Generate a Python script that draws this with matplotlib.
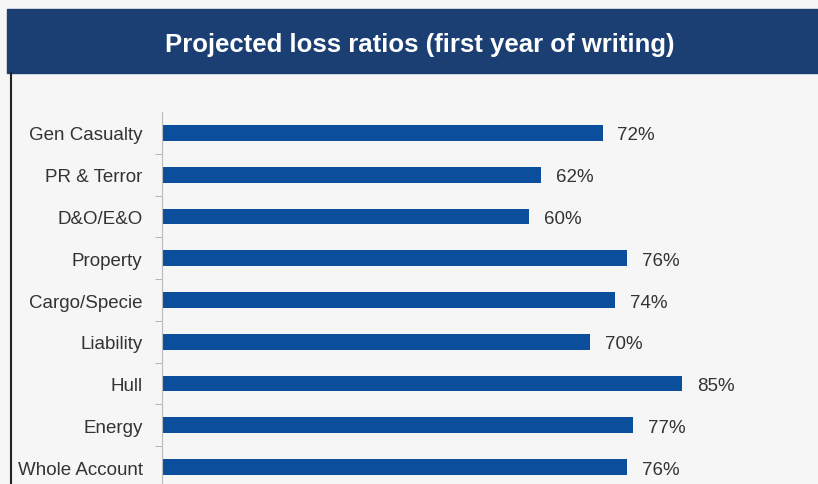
import matplotlib.pyplot as plt
from matplotlib.patches import Rectangle
from matplotlib.lines import Line2D

# Données
categories = ['Gen Casualty', 'PR & Terror', 'D&O/E&O', 'Property', 'Cargo/Specie',
              'Liability', 'Hull', 'Energy', 'Whole Account']
values = [72, 62, 60, 76, 74, 70, 85, 77, 76]
labels = ['72%', '62%', '60%', '76%', '74%', '70%', '85%', '77%', '76%']

font = ['Liberation Sans Narrow', 'Liberation Sans', 'DejaVu Sans']
W, H = 818, 485

fig = plt.figure(figsize=(W / 100, H / 100), dpi=100, facecolor='#f6f6f6')

# Bandeau titre
fig.patches.append(Rectangle((7 / W, 1 - 74 / H), 1 - 7 / W, 64 / H,
                             transform=fig.transFigure, color='#1b3f73', zorder=0))
fig.text(420 / W, 1 - 45 / H, 'Projected loss ratios (first year of writing)',
         color='white', fontsize=18.5, fontweight='bold', family=font,
         ha='center', va='center')
fig.lines.append(Line2D([11 / W, 11 / W], [0, 1 - 74 / H], transform=fig.transFigure,
                        color='#222222', lw=1.5))

# Axes
ax = fig.add_axes([162 / W, (H - 489) / H, (W - 162) / W, (489 - 113) / H])
ax.set_facecolor('none')
y = list(range(len(categories)))
ax.barh(y, values, height=0.38, color='#0b4f9c')
ax.set_xlim(0, (W - 162) / 6.12)
ax.set_ylim(len(categories) - 0.5, -0.5)

for yi, v, lab in zip(y, values, labels):
    ax.text(v + 2.4, yi + 0.05, lab, va='center', ha='left', fontsize=13.5,
            family=font, color='#333333')

ax.set_yticks(y)
ax.set_yticklabels(categories, family=font, fontsize=13.5, color='#333333')
ax.tick_params(axis='y', length=0, pad=14)
ax.set_yticks([i + 0.5 for i in y[:-1]], minor=True)
ax.tick_params(axis='y', which='minor', length=5, color='#aaaaaa')
ax.set_xticks([])
for s in ['top', 'right', 'bottom']:
    ax.spines[s].set_visible(False)
ax.spines['left'].set_color('#bbbbbb')

fig.savefig('out.png', dpi=100, facecolor=fig.get_facecolor())
